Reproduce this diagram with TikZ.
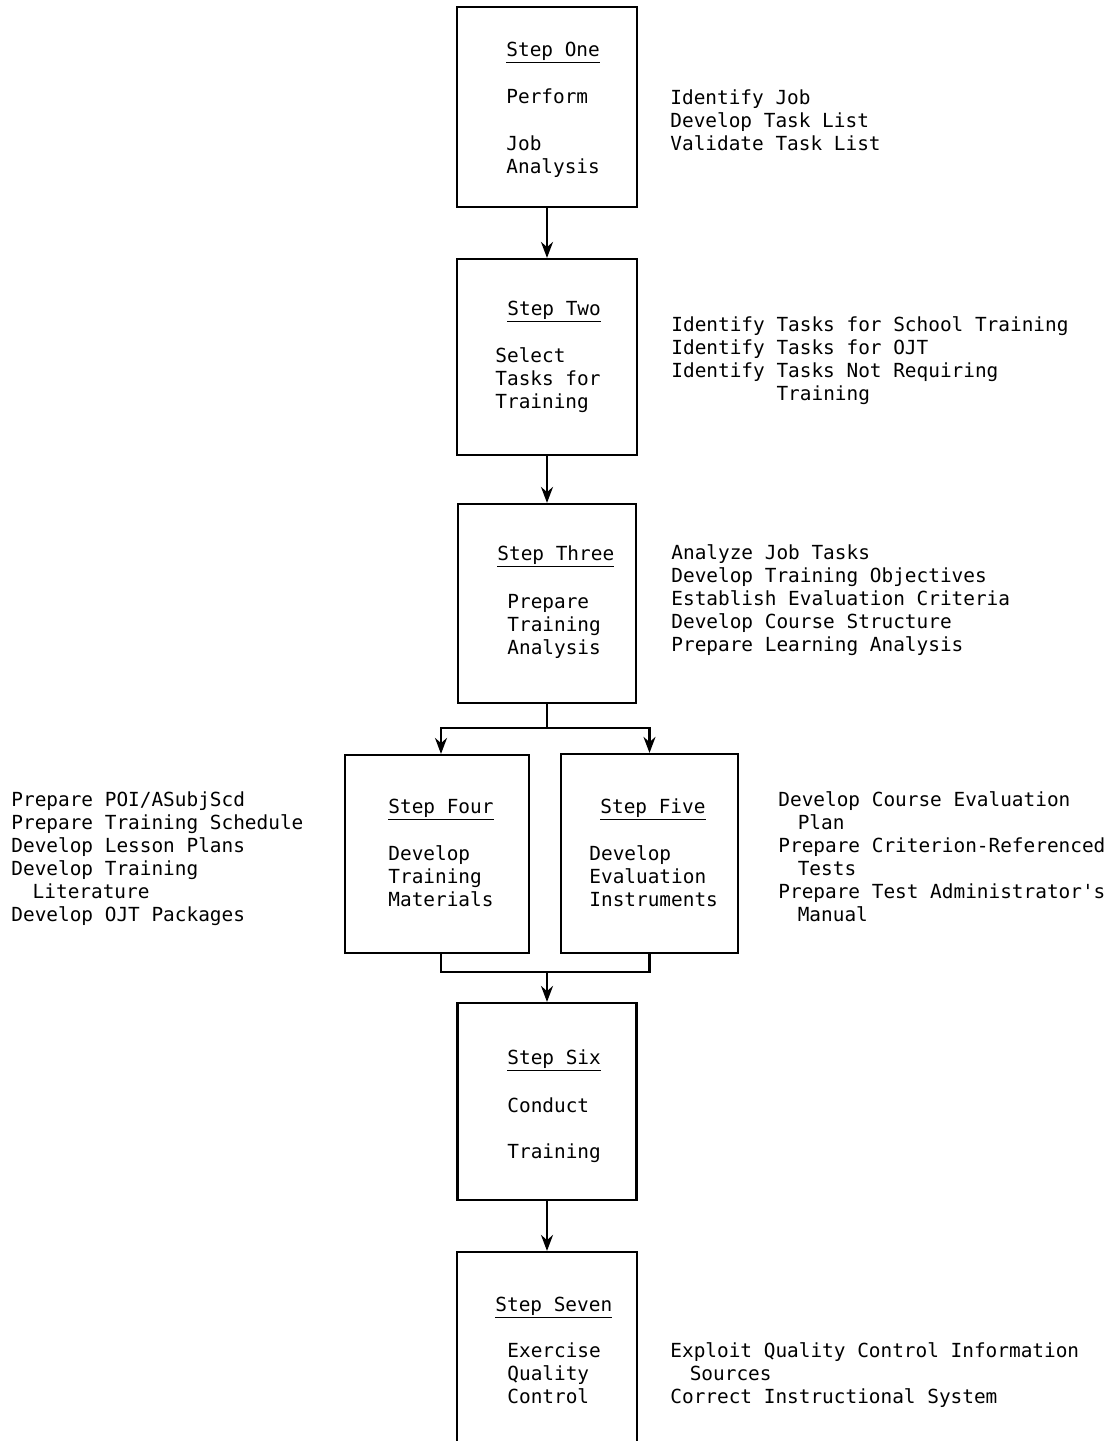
\documentclass[tikz,border=0pt]{standalone}
\usepackage{fontspec}
\newfontfamily\typewriter{DejaVu Sans Mono}
\usetikzlibrary{arrows.meta}

\tikzset{
    stepbox/.style={draw, line width=1.1pt, inner sep=0pt},
    link/.style={line width=1.1pt},
    flow/.style={line width=1.1pt, -{Stealth[length=8pt, width=6pt]}},
    txt/.style={anchor=base west, inner sep=0pt, align=left,
        font=\typewriter\fontsize{9.7pt}{11.5pt}\selectfont},
}

\begin{document}
\begin{tikzpicture}[x=0.5pt, y=-0.5pt]
    \useasboundingbox (0,0) rectangle (1118,1441);

    % Step One (multi-line texts sit on their last baseline)
    \node[stepbox, minimum width=90pt, minimum height=100pt] (one) at (547,107) {};
    \node[txt] (oneh) at (506,56) {\underline{Step One}};
    \node[txt] (onea) at (506,103) {Perform};
    \node[txt] (oneb) at (506,173) {Job\\Analysis};
    \node[txt] (onel) at (670,150) {Identify Job\\Develop Task List\\Validate Task List};

    % Step Two
    \node[stepbox, minimum width=90pt, minimum height=98pt] (two) at (547,357) {};
    \node[txt] (twoh) at (507,315) {\underline{Step Two}};
    \node[txt] (twob) at (495,408) {Select\\Tasks for\\Training};
    \node[txt] (twol) at (671,400) {Identify Tasks for School Training\\Identify Tasks for OJT\\Identify Tasks Not Requiring\\\hspace*{5.42em}Training};

    % Step Three
    \node[stepbox, minimum width=89pt, minimum height=99.5pt] (three) at (547,603.5) {};
    \node[txt] (threeh) at (497,560) {\underline{Step Three}};
    \node[txt] (threeb) at (507,654) {Prepare\\Training\\Analysis};
    \node[txt] (threel) at (671,651) {Analyze Job Tasks\\Develop Training Objectives\\Establish Evaluation Criteria\\Develop Course Structure\\Prepare Learning Analysis};

    % Step Four
    \node[stepbox, minimum width=92pt, minimum height=99pt] (four) at (437,854) {};
    \node[txt] (fourh) at (388,813) {\underline{Step Four}};
    \node[txt] (fourb) at (388,906) {Develop\\Training\\Materials};
    \node[txt] (fourl) at (11,921) {Prepare POI/ASubjScd\\Prepare Training Schedule\\Develop Lesson Plans\\Develop Training\\\hspace*{1.1em}Literature\\Develop OJT Packages};

    % Step Five
    \node[stepbox, minimum width=88.5pt, minimum height=99.5pt] (five) at (649.5,853.5) {};
    \node[txt] (fiveh) at (600,813) {\underline{Step Five}};
    \node[txt] (fiveb) at (589,906) {Develop\\Evaluation\\Instruments};
    \node[txt] (fivel) at (778,921) {Develop Course Evaluation\\\hspace*{1em}Plan\\Prepare Criterion-Referenced\\\hspace*{1em}Tests\\Prepare Test Administrator's\\\hspace*{1em}Manual};

    % Step Six
    \node[stepbox, minimum width=89.5pt, minimum height=98.5pt] (six) at (547,1101.5) {};
    \node[txt] (sixh) at (507,1064) {\underline{Step Six}};
    \node[txt] (sixa) at (507,1112) {Conduct};
    \node[txt] (sixb) at (507,1158) {Training};

    % Step Seven
    \node[stepbox, minimum width=90pt, minimum height=104pt] (seven) at (547,1356) {};
    \node[txt] (sevenh) at (495,1311) {\underline{Step Seven}};
    \node[txt] (sevenb) at (507,1403) {Exercise\\Quality\\Control};
    \node[txt] (sevenl) at (670,1403) {Exploit Quality Control Information\\\hspace*{1em}Sources\\Correct Instructional System};

    % connectors
    \draw[flow] (one) -- (two);
    \draw[flow] (two) -- (three);
    \draw[link] (three.south) -- ++(0,24) coordinate (split);
    \draw[flow] (split) -| ([xshift=2pt]four.north);
    \draw[flow] (split) -| (five.north);
    \path (six.north) ++(0,-30) coordinate (merge);
    \draw[link] ([xshift=2pt]four.south) |- (merge) -| (five.south);
    \draw[flow] (merge) -- (six.north);
    \draw[flow] (six) -- (seven);
\end{tikzpicture}
\end{document}
